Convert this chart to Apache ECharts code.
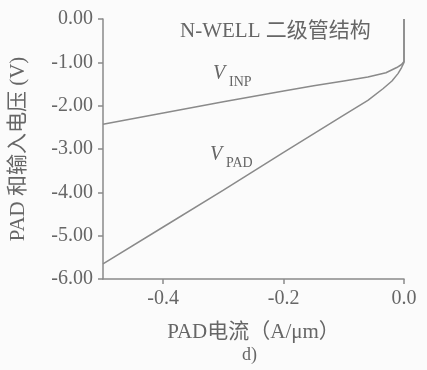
<!DOCTYPE html>
<html>
<head>
<meta charset="utf-8">
<script src="https://cdn.jsdelivr.net/npm/echarts@6/dist/echarts.min.js"></script>
<style>
html,body{margin:0;padding:0;background:#fbfbfb;}
#c{width:427px;height:370px;}
</style>
</head>
<body>
<div id="c"></div>
<script>
// PAD current (A/um) and voltages (V)
const inpCurrent = [-0.5, -0.4, -0.3, -0.2, -0.15, -0.1, -0.06, -0.03, -0.012, -0.004, 0, 0];
const inpVoltage = [-2.43, -2.17, -1.91, -1.66, -1.54, -1.43, -1.34, -1.24, -1.12, -1.05, -0.98, 0];
const padCurrent = [-0.5, -0.4, -0.3, -0.2, -0.1, -0.06, -0.035, -0.02, -0.01, -0.004, 0, 0];
const padVoltage = [-5.65, -4.80, -3.95, -3.08, -2.22, -1.88, -1.61, -1.43, -1.26, -1.12, -1.0, 0];
const xTicks = [-0.4, -0.2, 0.0];

const gray = '#8a8a8a';
const textColor = '#666666';
const serif = '"Liberation Serif", "Times New Roman", "Noto Sans CJK SC", serif';

const chart = echarts.init(document.getElementById('c'));
chart.setOption({
  backgroundColor: '#fbfbfb',
  animation: false,
  grid: {left: 101, right: 23, top: 19, bottom: 91},
  xAxis: {
    type: 'value', min: -0.5, max: 0,
    name: 'PAD电流（A/μm）', nameLocation: 'middle', nameGap: 43,
    nameTextStyle: {fontFamily: serif, fontSize: 21, color: textColor},
    axisLine: {onZero: false, lineStyle: {color: gray, width: 1.5}},
    axisTick: {customValues: xTicks, length: 5, lineStyle: {color: gray, width: 1.5}},
    axisLabel: {customValues: xTicks, fontFamily: serif, fontSize: 20, color: textColor, margin: 10,
      formatter: v => v.toFixed(1)},
    splitLine: {show: false}
  },
  yAxis: {
    type: 'value', min: -6, max: 0, interval: 1,
    name: 'PAD 和输入电压 (V)', nameLocation: 'middle', nameGap: 74, nameRotate: 90,
    nameTextStyle: {fontFamily: serif, fontSize: 21, color: textColor},
    axisLine: {show: true, onZero: false, lineStyle: {color: gray, width: 1.5}},
    axisTick: {show: true, length: 5, lineStyle: {color: gray, width: 1.5}},
    axisLabel: {fontFamily: serif, fontSize: 20, color: textColor, margin: 10,
      formatter: v => v.toFixed(2)},
    splitLine: {show: false}
  },
  series: [
    {type: 'line', name: 'VINP', showSymbol: false, symbol: 'none',
     data: inpCurrent.map((x, i) => [x, inpVoltage[i]]),
     lineStyle: {color: gray, width: 1.5}},
    {type: 'line', name: 'VPAD', showSymbol: false, symbol: 'none',
     data: padCurrent.map((x, i) => [x, padVoltage[i]]),
     lineStyle: {color: gray, width: 1.5}}
  ],
  graphic: [
    {type: 'text', left: 180, top: 21, style: {text: 'N-WELL 二级管结构', font: '21px ' + serif, fill: textColor}},
    {type: 'text', left: 213, top: 64, style: {text: 'V', font: 'italic 20px ' + serif, fill: textColor}},
    {type: 'text', left: 229, top: 75, style: {text: 'INP', font: '14px ' + serif, fill: textColor}},
    {type: 'text', left: 210, top: 145, style: {text: 'V', font: 'italic 20px ' + serif, fill: textColor}},
    {type: 'text', left: 226, top: 156, style: {text: 'PAD', font: '14px ' + serif, fill: textColor}},
    {type: 'text', left: 242, top: 346, style: {text: 'd)', font: '18px ' + serif, fill: textColor}}
  ]
});
</script>
</body>
</html>
